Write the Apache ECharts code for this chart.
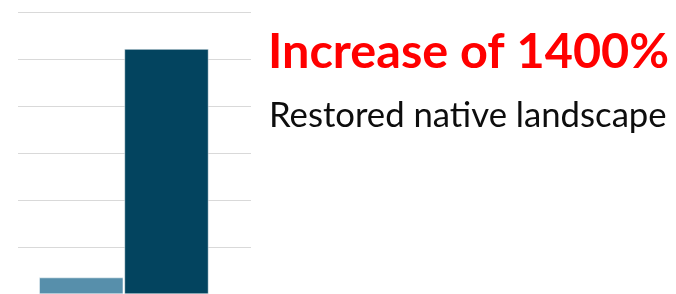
<!DOCTYPE html>
<html>
<head>
<meta charset="utf-8">
<script src="https://cdn.jsdelivr.net/npm/echarts@6/dist/echarts.min.js"></script>
<style>
  html, body { margin: 0; padding: 0; background: #fff; }
  #chart { width: 676px; height: 294px; }
</style>
</head>
<body>
<div id="chart"></div>
<script>
// before / after restoration
const categories = ['Before', 'After'];
const values = [0.35, 5.22];
const barColors = ['#578FAB', '#03445F'];

const chart = echarts.init(document.getElementById('chart'));

const option = {
    animation: false,
    grid: [
        // grid that carries the gridlines
        { left: 18, top: 12.5, width: 233, height: 285 },
        // grid for the bars
        { left: 38.6, top: 12.5, width: 170.5, height: 285 }
    ],
    xAxis: [
        { gridIndex: 0, type: 'category', data: categories, show: false },
        { gridIndex: 1, type: 'category', data: categories, show: false }
    ],
    yAxis: [
        {
            gridIndex: 0, type: 'value', min: 0, max: 6, interval: 1,
            axisLabel: { show: false }, axisLine: { show: false }, axisTick: { show: false },
            splitLine: { lineStyle: { color: '#D9D9D9', width: 1 } }
        },
        { gridIndex: 1, type: 'value', min: 0, max: 6, show: false, splitLine: { show: false } }
    ],
    series: [
        {
            type: 'bar',
            xAxisIndex: 1,
            yAxisIndex: 1,
            barWidth: 84,
            data: values.map((v, i) => ({ value: v, itemStyle: { color: barColors[i] } })),
            itemStyle: { borderColor: '#ffffff', borderWidth: 0.5 }
        }
    ],
    graphic: [
        {
            type: 'text',
            left: 268, top: 28,
            style: {
                text: 'Increase of 1400%',
                fill: '#FF0000',
                font: 'bold 48.6px Lato'
            }
        },
        {
            type: 'text',
            left: 269, top: 98,
            style: {
                text: 'Restored native landscape',
                fill: '#0D0D0D',
                font: '34.7px Lato'
            }
        }
    ]
};

chart.setOption(option);
</script>
</body>
</html>
